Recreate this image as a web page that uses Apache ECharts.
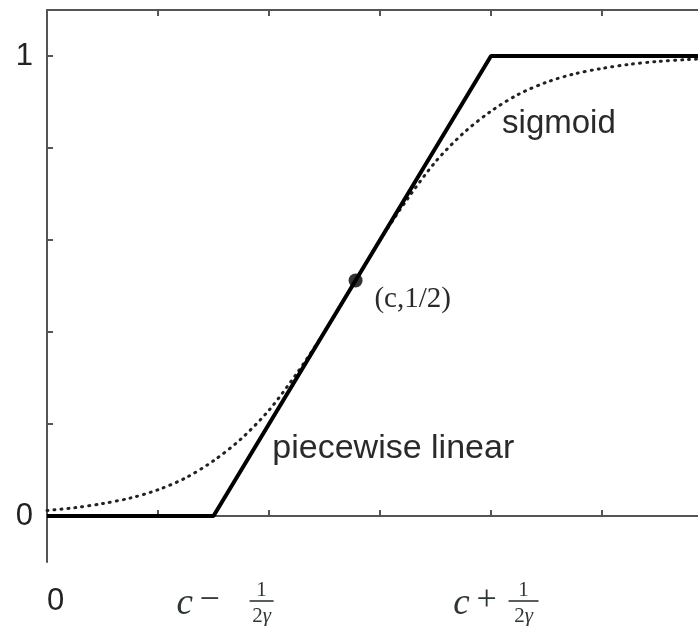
<!DOCTYPE html>
<html><head><meta charset="utf-8">
<script src="https://cdn.jsdelivr.net/npm/echarts@6/dist/echarts.min.js"></script>
<style>html,body{margin:0;padding:0;background:#fff}#main{width:698px;height:626px}</style>
</head><body><div id="main"></div>
<script>
// ---- data ----
const xTickValues = [0, 1, 2, 3, 4, 5];
const xVisibleMax = 5.865;   // right edge of the cropped figure
const yTickValues = [0, 0.2, 0.4, 0.6, 0.8, 1];
const yTickLabels = [0, 1];
const xTickLabels = [0];
const piecewiseX = [0, 1.5, 4, 6];
const piecewiseY = [0, 0, 1, 1];
const sigmoidX = [0, 0.25, 0.5, 0.75, 1, 1.25, 1.5, 1.75, 2, 2.25, 2.5, 2.75, 3, 3.25, 3.5, 3.75, 4, 4.25, 4.5, 4.75, 5, 5.25, 5.5, 5.75, 6];
const sigmoidY = [0.012, 0.018, 0.027, 0.039, 0.057, 0.083, 0.12, 0.168, 0.23, 0.31, 0.40, 0.50, 0.60, 0.69, 0.77, 0.832, 0.88, 0.917, 0.943, 0.961, 0.973, 0.982, 0.988, 0.992, 0.995];
const midPointX = [2.78];
const midPointY = [0.512];
const textLabels = ['sigmoid', 'piecewise linear', '(c,1/2)'];
const mathOps = ['\u2212', '+'];

// ---- chart ----
const chart = echarts.init(document.getElementById('main'), null, { renderer: 'canvas' });
const axisColor = '#555';
const zip = (xs, ys) => xs.map((x, i) => [x, ys[i]]);

const option = {
  animation: false,
  backgroundColor: '#fff',
  grid: { left: 47, right: 0, top: 10, bottom: 64, containLabel: false },
  xAxis: [{
    type: 'value', min: 0, max: xVisibleMax, position: 'bottom',
    axisLine: { show: true, lineStyle: { color: axisColor, width: 2 } },
    axisTick: { show: true, inside: true, length: 6, customValues: xTickValues, lineStyle: { color: axisColor, width: 2 } },
    axisLabel: { show: true, customValues: xTickLabels, formatter: v => String(v), align: 'left', margin: 24,
      fontFamily: 'Liberation Sans', fontSize: 31, color: '#222' },
    splitLine: { show: false }
  }, {
    type: 'value', min: 0, max: xVisibleMax, position: 'top',
    axisLine: { show: true, lineStyle: { color: axisColor, width: 2 } },
    axisTick: { show: true, inside: true, length: 6, customValues: xTickValues, lineStyle: { color: axisColor, width: 2 } },
    axisLabel: { show: false }, splitLine: { show: false }
  }],
  yAxis: [{
    type: 'value', min: -0.1, max: 1.1, position: 'left',
    axisLine: { show: true, lineStyle: { color: axisColor, width: 2 } },
    axisTick: { show: true, inside: true, length: 6, customValues: yTickValues, lineStyle: { color: axisColor, width: 2 } },
    axisLabel: { show: true, customValues: yTickLabels, formatter: v => String(v), margin: 14,
      fontFamily: 'Liberation Sans', fontSize: 31, color: '#222' },
    splitLine: { show: false }
  }],
  series: [{
    name: 'sigmoid', type: 'line', data: zip(sigmoidX, sigmoidY), smooth: 0.3, showSymbol: false,
    lineStyle: { color: '#222', width: 3, type: [1, 6], cap: 'round' }, z: 2
  }, {
    name: 'piecewise linear', type: 'line', data: zip(piecewiseX, piecewiseY), showSymbol: false,
    lineStyle: { color: '#000', width: 4 }, z: 3
  }, {
    name: 'c', type: 'scatter', data: zip(midPointX, midPointY), symbol: 'circle', symbolSize: 14,
    itemStyle: { color: '#000' }, z: 4
  }]
};
chart.setOption(option);

// ---- annotations positioned through the chart's own scales ----
const P = (x, y) => chart.convertToPixel({ gridIndex: 0 }, [x, y]);
const textAnchors = [[4.1, 0.852], [2.03, 0.146], [2.95, 0.47]];
const textFonts = ['33px "Liberation Sans"', '34px "Liberation Sans"', '29px "Liberation Serif"'];
const gfx = [];
textLabels.forEach((t, i) => {
  const p = P(textAnchors[i][0], textAnchors[i][1]);
  gfx.push({ type: 'text', x: p[0], y: p[1], z: 10, style: {
    text: t, fill: '#2a2a2a', font: textFonts[i], align: 'left', verticalAlign: 'middle' } });
});
const mathAnchors = [1.6, 4.05];
// per-label horizontal offsets: [c, operator, fraction]
const mathLayout = [[-40, -15, 37], [-35, -10, 27]];
const fracHalf = [12, 15];
const mathColor = '#2c3632';
mathOps.forEach((op, i) => {
  const p = P(mathAnchors[i], -0.1);
  const cx = p[0], base = p[1];
  const L = mathLayout[i];
  gfx.push({ type: 'text', x: cx + L[0], y: base + 42, z: 10, style: { text: 'c', font: 'italic 37px "Liberation Serif"', fill: mathColor, align: 'center', verticalAlign: 'middle' } });
  gfx.push({ type: 'text', x: cx + L[1], y: base + 39, z: 10, style: { text: op, font: '36px "Liberation Serif"', fill: mathColor, align: 'center', verticalAlign: 'middle' } });
  gfx.push({ type: 'line', z: 10, shape: { x1: cx + L[2] - fracHalf[i], y1: base + 39, x2: cx + L[2] + fracHalf[i], y2: base + 39 }, style: { stroke: mathColor, lineWidth: 1.6 } });
  gfx.push({ type: 'text', x: cx + L[2], y: base + 28, z: 10, style: { text: '1', font: '21px "Liberation Serif"', fill: mathColor, align: 'center', verticalAlign: 'middle' } });
  gfx.push({ type: 'text', x: cx + L[2], y: base + 54, z: 10, style: { text: '2{g|\u03b3}', font: '21px "Liberation Serif"', fill: mathColor, align: 'center', verticalAlign: 'middle',
    rich: { g: { font: 'italic 21px "Liberation Serif"', fill: mathColor } } } });
});
chart.setOption({ graphic: { elements: gfx } });
</script>
</body></html>
